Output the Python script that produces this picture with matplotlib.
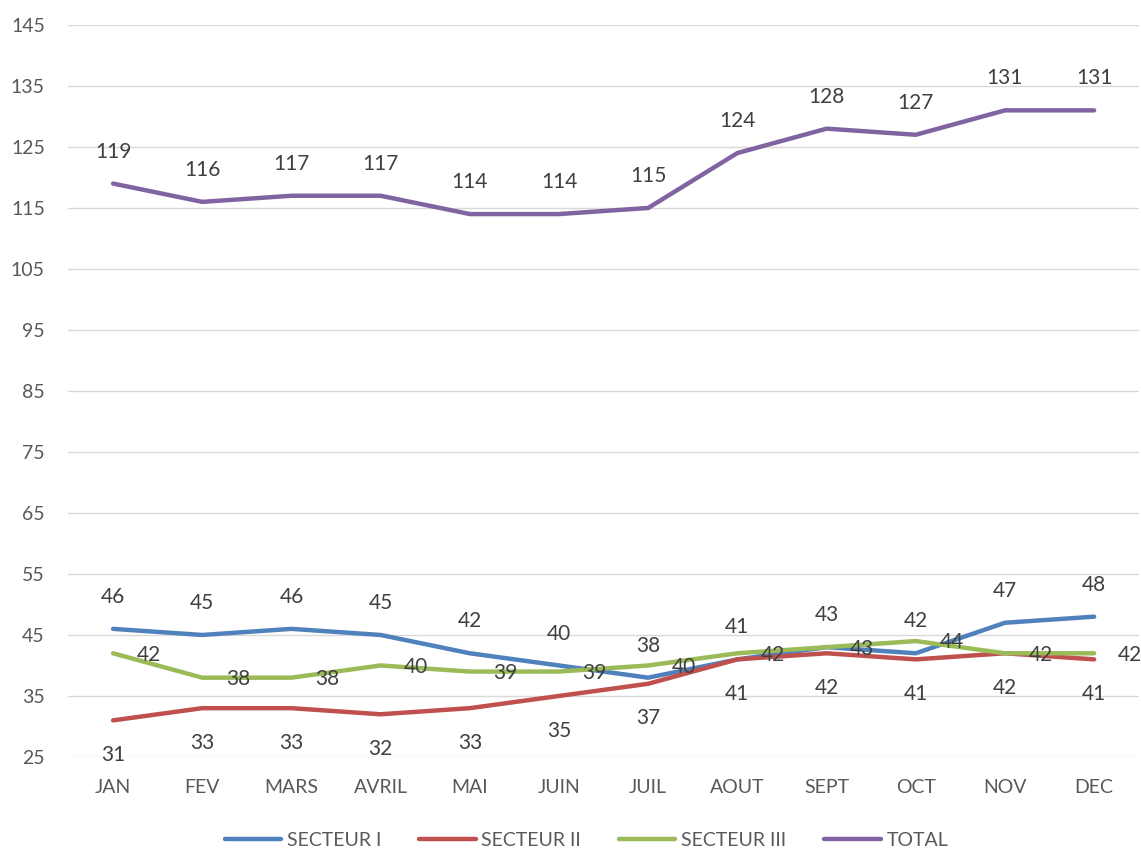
import matplotlib
matplotlib.use("Agg")
import matplotlib.pyplot as plt

months = ["JAN", "FEV", "MARS", "AVRIL", "MAI", "JUIN", "JUIL", "AOUT", "SEPT", "OCT", "NOV", "DEC"]
secteur1 = [46, 45, 46, 45, 42, 40, 38, 41, 43, 42, 47, 48]
secteur2 = [31, 33, 33, 32, 33, 35, 37, 41, 42, 41, 42, 41]
secteur3 = [42, 38, 38, 40, 39, 39, 40, 42, 43, 44, 42, 42]
total = [119, 116, 117, 117, 114, 114, 115, 124, 128, 127, 131, 131]
yticks = [25, 35, 45, 55, 65, 75, 85, 95, 105, 115, 125, 135, 145]

plt.rcParams['font.family'] = ['Lato', 'DejaVu Sans']
txt = '#595959'

fig = plt.figure(figsize=(11.41, 8.49), dpi=100)
ax = fig.add_axes([0.060, 0.1084, 0.938, 0.8622])
x = list(range(len(months)))

series = [
    ("SECTEUR I", secteur1, '#4F81BD', (0, 23), 'center', 'center'),
    ("SECTEUR II", secteur2, '#C0504D', (0, -25), 'center', 'center'),
    ("SECTEUR III", secteur3, '#9BBB59', (17, -1), 'left', 'center'),
    ("TOTAL", total, '#8064A2', (0, 23), 'center', 'center'),
]
for name, vals, col, off, ha, va in series:
    ax.plot(x, vals, color=col, lw=3.2, label=name, solid_capstyle='round', solid_joinstyle='round')
    for xi, v in zip(x, vals):
        ax.annotate(str(v), (xi, v), xytext=off, textcoords='offset points',
                    ha=ha, va=va, fontsize=15, color='#404040')

ax.set_xlim(-0.5, len(months) - 0.5)
ax.set_ylim(25, 145)
ax.set_yticks(yticks)
ax.set_xticks(x)
ax.set_xticklabels(months)
ax.tick_params(axis='both', length=0, labelsize=14, colors=txt)
ax.tick_params(axis='x', pad=16)
ax.tick_params(axis='y', pad=17)
ax.grid(axis='y', color='#D9D9D9', lw=1)
ax.set_axisbelow(True)
for s in ax.spines.values():
    s.set_visible(False)

leg = fig.legend(loc='center', bbox_to_anchor=(0.514, 9 / 849), ncol=4, frameon=False,
                 fontsize=14, handlelength=2.9, columnspacing=1.95, handletextpad=0.3)
for t in leg.get_texts():
    t.set_color(txt)

fig.savefig("out.png", dpi=100)
